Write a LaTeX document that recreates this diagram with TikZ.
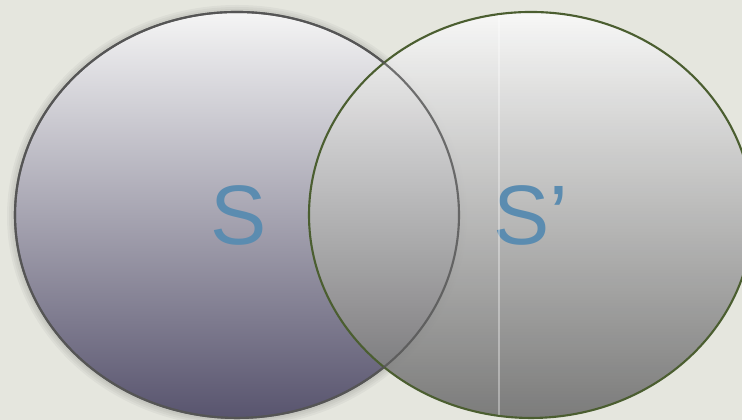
\documentclass[tikz,border=0pt]{standalone}
\usepackage{fontspec}
\setsansfont{Liberation Sans}
\usetikzlibrary{shapes.geometric}

\definecolor{paper}{HTML}{E5E6DE}
\definecolor{labelblue}{HTML}{5B8CB0}
\definecolor{rimgreen}{HTML}{4B5E30}
\definecolor{rimgrey}{HTML}{555555}

\tikzset{
  setdisc/.style={ellipse,inner sep=0pt,minimum width=4.44cm,minimum height=4.06cm,
    line width=0.6pt,shading=axis,font=\sffamily\fontsize{24}{24}\selectfont,
    text=labelblue,text opacity=1},
}

\begin{document}
\begin{tikzpicture}
  \useasboundingbox (0,0) rectangle (7.42,4.20);
  \fill[paper] (0,0) rectangle (7.42,4.20);

  % soft shadow round the left set
  \foreach \g in {0.02,0.04,...,0.08}
    \fill[black,opacity=0.035] (2.37,2.04) ellipse ({2.22+\g} and {2.03+\g});

  % the two sets
  \node[setdisc,draw=rimgrey,top color=black!4!white,bottom color={rgb,255:red,88;green,84;blue,110}]
    (S) at (2.37,2.05) {\hspace{0.04cm}S};
  \node[setdisc,draw=rimgreen,fill opacity=0.9,top color=black!2!white,bottom color=black!56!white]
    (Sp) at (5.31,2.05) {S'};

  % rim of the left set seen through the right one
  \draw[rimgrey,opacity=0.8,line width=0.6pt] (S.center) ellipse (2.22 and 2.03);

  % faint seam in the right set
  \begin{scope}
    \clip (Sp.center) ellipse (2.21 and 2.02);
    \draw[white,opacity=0.35,line width=0.4pt] (4.99,0) -- (4.99,4.20);
  \end{scope}
\end{tikzpicture}
\end{document}
